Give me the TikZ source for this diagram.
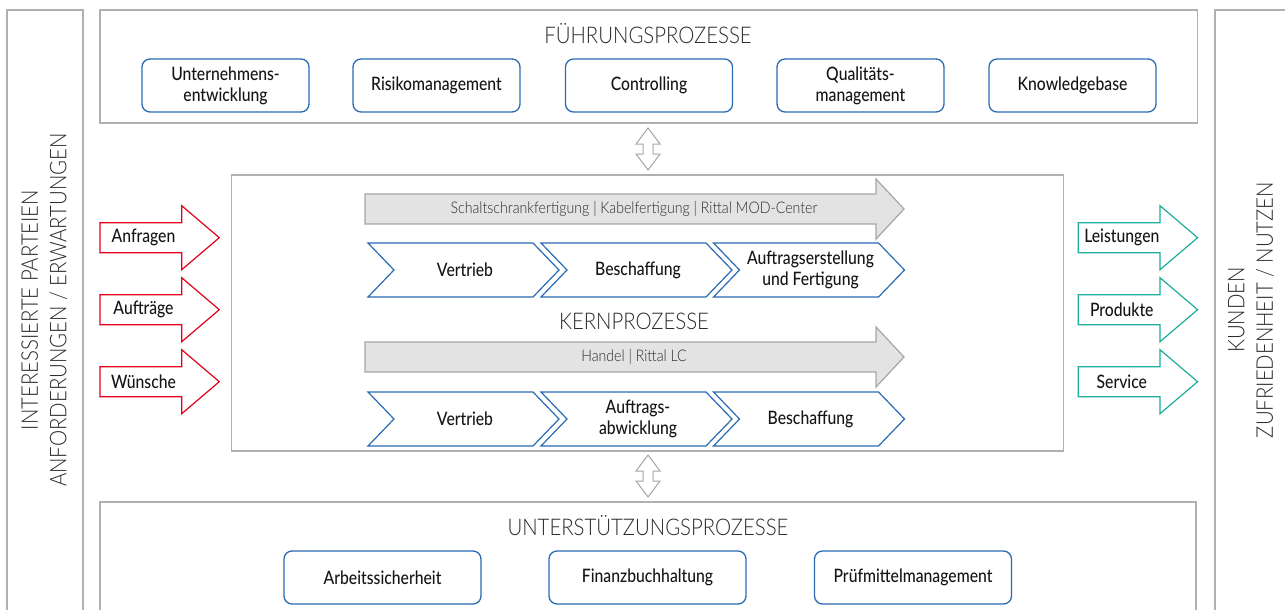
\documentclass[tikz,border=0pt]{standalone}
\usepackage{fontspec}
\setmainfont{Lato}
\newfontfamily\mylightfont{Lato Light}[FakeStretch=0.885]
\newfontfamily\mymedfont{Lato Medium}[FakeStretch=0.85]
\definecolor{rred}{HTML}{E2001A}
\definecolor{rgreen}{HTML}{1DAF9C}
\definecolor{rblue}{HTML}{2A6BB3}
\definecolor{framegray}{HTML}{B0B0B0}
\definecolor{arrfill}{HTML}{E3E3E3}
\definecolor{arredge}{HTML}{A6A6A6}
\definecolor{txt}{HTML}{151515}
\definecolor{titletxt}{HTML}{2B2B2B}
\newcommand\mylabel{\mymedfont\fontsize{18.5}{21}\selectfont}
\newcommand\mytitle{\mylightfont\fontsize{23}{28.5}\selectfont}
\newcommand\mygraytext{\mylightfont\fontsize{16}{19}\selectfont}
\tikzset{
  frame/.style={draw=framegray, line width=1.2pt},
  procbox/.style={draw=rblue, line width=1.3pt, rounded corners=8pt, fill=white,
    minimum width=167pt, minimum height=53pt, align=center, font=\mylabel, text=txt, inner sep=0pt},
  supbox/.style={procbox, minimum width=197pt},
  titletext/.style={font=\mytitle, text=titletxt, inner sep=0pt, align=center},
  chev/.style={draw=rblue, line width=1.2pt, fill=white},
  chevlabel/.style={font=\mylabel, text=txt, align=center, inner sep=0pt},
  grayarrow/.style={draw=arredge, line width=1.2pt, fill=arrfill},
  graylabel/.style={font=\mygraytext, text=titletxt, inner sep=0pt},
  dblarrow/.style={draw=arredge, line width=1pt, fill=white},
  arrlabel/.style={font=\mylabel, text=txt, inner sep=0pt}
}
% chevron: left x, center y, name, text
\newcommand\mychevron[4]{%
  \draw[chev] (#1,#2-27) -- ++(165,0) -- ++(26,27) -- ++(-26,27) -- ++(-165,0) -- ++(26,-27) -- cycle;
  \node[chevlabel] (#3) at (#1+97,#2) {#4};}
% block arrow: left x, center y, colour, name, text
\newcommand\myblockarrow[5]{%
  \draw[draw=#3, line width=1.2pt, fill=white] (#1,#2-15) -- (#1+81.7,#2-15) -- (#1+81.7,#2-32)
    -- (#1+119.3,#2) -- (#1+81.7,#2+32) -- (#1+81.7,#2+15) -- (#1,#2+15) -- cycle;
  \node[arrlabel] (#4) at (#1+43.5,#2) {#5};}
% vertical double arrow: center x, top y
\newcommand\mydblarrow[2]{%
  \draw[dblarrow] (#1,#2) -- (#1+12,#2+16) -- (#1+5,#2+16) -- (#1+5,#2+26) -- (#1+12,#2+26)
    -- (#1,#2+42) -- (#1-12,#2+26) -- (#1-5,#2+26) -- (#1-5,#2+16) -- (#1-12,#2+16) -- cycle;}
\begin{document}
\begin{tikzpicture}[x=1pt,y=-1pt]
\useasboundingbox (0,0) rectangle (1285,610);
\clip (0,0) rectangle (1285,610);
\fill[white] (0,0) rectangle (1285,610);

% side frames
\draw[frame] (7,640) -- (7,10) -- (83,10) -- (83,640);
\draw[frame] (1215,640) -- (1215,10) -- (1300,10);
\node[titletext, rotate=90] (parteien) at (44.5,310) {INTERESSIERTE PARTEIEN\\ANFORDERUNGEN / ERWARTUNGEN};
\node[titletext, rotate=90] (kunden) at (1251,310) {KUNDEN\\ZUFRIEDENHEIT / NUTZEN};

% Fuehrungsprozesse
\node[frame, minimum width=1097.7pt, minimum height=113pt, inner sep=0pt] (fuehrung) at (648.85,66.5) {};
\node[titletext] (fuehrungtitle) at (648,34) {FÜHRUNGSPROZESSE};
\node[procbox] (unt) at (225.5,85.5) {Unternehmens-\\entwicklung};
\node[procbox] (risk) at (436.5,85.5) {Risikomanagement};
\node[procbox] (contr) at (649,85.5) {Controlling};
\node[procbox] (qual) at (860.5,85.5) {Qualitäts-\\management};
\node[procbox] (know) at (1072.5,85.5) {Knowledgebase};

% Kernprozesse
\node[frame, minimum width=832pt, minimum height=276pt, inner sep=0pt] (kern) at (647.5,313) {};
\mydblarrow{648}{128}
\node[titletext] (kerntitle) at (634,321.7) {KERNPROZESSE};

\draw[grayarrow] (365,194) -- (876,194) -- (876,179) -- (904,209) -- (876,239) -- (876,224) -- (365,224) -- cycle;
\node[graylabel] (fert) at (634,209) {Schaltschrankfertigung | Kabelfertigung | Rittal MOD-Center};
\mychevron{368}{270}{v1}{Vertrieb}
\mychevron{541}{270}{b1}{Beschaffung}
\mychevron{713.5}{270}{a1}{Auftragserstellung\\und Fertigung}

\draw[grayarrow] (365,342) -- (876,342) -- (876,327) -- (904,357) -- (876,387) -- (876,372) -- (365,372) -- cycle;
\node[graylabel] (handel) at (634,357) {Handel | Rittal LC};
\mychevron{368}{419}{v2}{Vertrieb}
\mychevron{541}{419}{a2}{Auftrags-\\abwicklung}
\mychevron{713.5}{419}{b2}{Beschaffung}

% inputs / outputs
\myblockarrow{100}{237.7}{rred}{anfr}{Anfragen}
\myblockarrow{100}{309.7}{rred}{auftr}{Aufträge}
\myblockarrow{100}{381.7}{rred}{wuen}{Wünsche}
\myblockarrow{1078.3}{237.7}{rgreen}{leist}{Leistungen}
\myblockarrow{1078.3}{309.7}{rgreen}{prod}{Produkte}
\myblockarrow{1078.3}{381.7}{rgreen}{serv}{Service}

% Unterstuetzungsprozesse
\mydblarrow{648}{455}
\draw[frame] (100,640) -- (100,502) -- (1196,502) -- (1196,640);
\node[titletext] (unttitle) at (648,525.5) {UNTERSTÜTZUNGSPROZESSE};
\node[supbox] (arb) at (382.5,577.5) {Arbeitssicherheit};
\node[supbox] (fin) at (647.5,577.5) {Finanzbuchhaltung};
\node[supbox] (pruef) at (913,577.5) {Prüfmittelmanagement};
\end{tikzpicture}
\end{document}
